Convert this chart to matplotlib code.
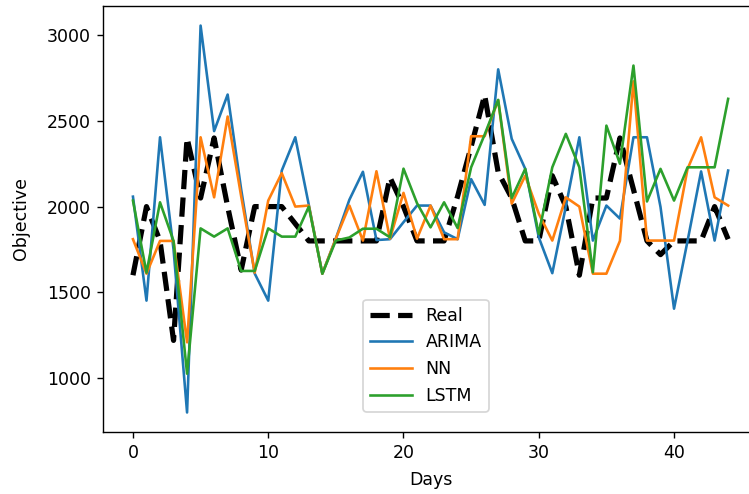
import matplotlib
matplotlib.use("Agg")
import matplotlib.pyplot as plt
import numpy as np

days = list(range(45))

real = [1600, 2000, 1800, 1220, 2400, 2050, 2400, 2000, 1630, 2000,
        2000, 2000, 1900, 1800, 1800, 1800, 1800, 1800, 1800, 2170,
        2000, 1800, 1800, 1800, 2060, 2350, 2650, 2200, 2050, 1800,
        1800, 2180, 2000, 1600, 2050, 2050, 2400, 2100, 1800, 1720,
        1800, 1800, 1800, 2000, 1810]

arima = [2058, 1452, 2404, 1750, 800, 3055, 2440, 2653, 2100, 1610,
         1452, 2210, 2404, 2010, 1609, 1814, 2040, 2203, 1805, 1810,
         1909, 2006, 2006, 1850, 1810, 2160, 2010, 2800, 2395, 2220,
         1821, 1612, 2000, 2404, 1802, 2006, 1930, 2404, 2404, 1998,
         1405, 1800, 2205, 1802, 2210]

nn = [1810, 1609, 1800, 1800, 1209, 2404, 2054, 2525, 2060, 1615,
      2035, 2195, 2000, 2006, 1609, 1814, 2006, 1802, 2206, 1813,
      2080, 1813, 2006, 1810, 1810, 2410, 2410, 2620, 2017, 2180,
      1959, 1802, 2054, 2000, 1609, 1609, 1800, 2730, 1802, 1802,
      1802, 2220, 2404, 2054, 2006]

lstm = [2035, 1615, 2025, 1800, 1026, 1873, 1825, 1873, 1625, 1625,
        1873, 1825, 1825, 2000, 1609, 1802, 1820, 1871, 1871, 1821,
        2221, 2020, 1879, 2025, 1875, 2229, 2420, 2622, 2050, 2220,
        1841, 2229, 2424, 2229, 1617, 2472, 2250, 2822, 2030, 2220,
        2035, 2229, 2229, 2229, 2628]

fig = plt.figure(figsize=(749 / 125, 494 / 125), dpi=125)
ax = fig.add_axes([103.2 / 749, 1 - 431.7 / 494, 654.7 / 749, 425.5 / 494])

ax.plot(days, real, 'k--', linewidth=3, label='Real')
ax.plot(days, arima, color='tab:blue', linewidth=1.5, label='ARIMA')
ax.plot(days, nn, color='tab:orange', linewidth=1.5, label='NN')
ax.plot(days, lstm, color='tab:green', linewidth=1.5, label='LSTM')

ax.set_xlim(-2.2, 46.2)
ax.set_ylim(688, 3168)
ax.set_xticks([0, 10, 20, 30, 40])
ax.set_yticks([1000, 1500, 2000, 2500, 3000])
ax.set_xlabel('Days', labelpad=5.5)
ax.set_ylabel('Objective', labelpad=10)
ax.legend(loc='lower left', bbox_to_anchor=(0.397, 0.047), borderaxespad=0,
          handlelength=2.4)

fig.savefig('out.png', dpi=125)
